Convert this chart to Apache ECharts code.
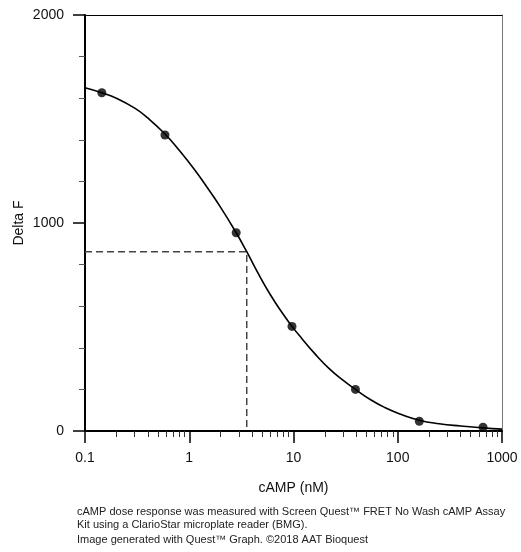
<!DOCTYPE html>
<html>
<head>
<meta charset="utf-8">
<script src="https://cdn.jsdelivr.net/npm/echarts@6/dist/echarts.min.js"></script>
<style>
html,body{margin:0;padding:0;background:#fff;}
#chart{width:521px;height:552px;}
</style>
</head>
<body>
<div id="chart"></div>
<script>
// Measured points (cAMP nM, Delta F)
var pointX = [0.145, 0.585, 2.82, 9.67, 39.3, 161, 658];
var pointY = [1626, 1423, 953, 503, 200, 47, 18];
// Fitted curve
var curveX = [0.1, 0.145, 0.2, 0.3, 0.4, 0.585, 0.8, 1.13, 1.5, 2, 2.82, 3.56, 4.5, 6, 8, 9.67, 12, 16, 22, 30, 39.3, 55, 75, 105, 161, 250, 400, 658, 1000];
var curveY = [1650, 1626, 1600, 1552, 1505, 1428, 1350, 1255, 1168, 1075, 953, 862, 765, 655, 560, 503, 445, 372, 300, 243, 200, 150, 113, 82, 52, 35, 24, 15, 9];
// EC50 guide (dashed)
var guideX = [0.1, 3.56, 3.56];
var guideY = [862, 862, 0];
// axis ticks
var xMajorTicks = [0.1, 1, 10, 100, 1000];
var xMinorTicks = [0.2,0.3,0.4,0.5,0.6,0.7,0.8,0.9,2,3,4,5,6,7,8,9,20,30,40,50,60,70,80,90,200,300,400,500,600,700,800,900];
var yTicks = [0, 1000, 2000];
var xTitle = 'cAMP (nM)';
var yTitle = 'Delta F';
var caption1 = 'cAMP dose response was measured with Screen Quest\u2122 FRET No Wash cAMP Assay';
var caption2 = 'Kit using a ClarioStar microplate reader (BMG).';
var caption3 = 'Image generated with Quest\u2122 Graph. \u00a92018 AAT Bioquest';

function zip(a, b){ return a.map(function(v,i){ return [v, b[i]]; }); }

var FONT = '"Liberation Sans", Arial, sans-serif';
var chart = echarts.init(document.getElementById('chart'), null, {renderer:'canvas'});
var option = {
  backgroundColor: '#fff',
  animation: false,
  textStyle: {fontFamily: FONT},
  grid: {left: 85, right: 19, top: 15, bottom: 121, containLabel: false, outerBoundsMode: 'none'},
  xAxis: [
    {
      type: 'log', logBase: 10, min: 0.1, max: 1000, position: 'bottom',
      axisLine: {show: true, onZero: false, lineStyle: {color: '#000', width: 2}},
      axisTick: {show: true, inside: false, length: 12, lineStyle: {color: '#000', width: 1.5}, customValues: xMajorTicks},
      minorTick: {show: false},
      axisLabel: {show: true, fontSize: 14, color: '#111', margin: 20, fontFamily: FONT, customValues: xMajorTicks,
        formatter: function(v){ return String(v); }},
      splitLine: {show: false},
      name: xTitle, nameLocation: 'middle', nameGap: 50, nameMoveOverlap: false,
      nameTextStyle: {fontSize: 14, color: '#111', fontFamily: FONT}
    },
    {
      type: 'log', logBase: 10, min: 0.1, max: 1000, position: 'bottom',
      axisLine: {show: false, onZero: false},
      axisTick: {show: true, inside: false, length: 6, lineStyle: {color: '#333', width: 1}, customValues: xMinorTicks},
      axisLabel: {show: false},
      splitLine: {show: false}
    },
    {
      type: 'log', logBase: 10, min: 0.1, max: 1000, position: 'top',
      axisLine: {show: true, onZero: false, lineStyle: {color: '#000', width: 1}},
      axisTick: {show: false}, axisLabel: {show: false}, splitLine: {show: false}
    }
  ],
  yAxis: [
    {
      type: 'value', min: 0, max: 2000, interval: 1000, position: 'left',
      axisLine: {show: true, onZero: false, lineStyle: {color: '#000', width: 2}},
      axisTick: {show: true, inside: false, length: 12, lineStyle: {color: '#000', width: 1.5}},
      minorTick: {show: true, splitNumber: 5, length: 6, lineStyle: {color: '#555', width: 1}},
      axisLabel: {show: true, fontSize: 14, color: '#111', margin: 21, fontFamily: FONT,
        formatter: function(v){ return String(v); }},
      splitLine: {show: false},
      name: yTitle, nameLocation: 'middle', nameGap: 59, nameRotate: 90, nameMoveOverlap: false,
      nameTextStyle: {fontSize: 14, color: '#111', fontFamily: FONT}
    },
    {
      type: 'value', min: 0, max: 2000, interval: 1000, position: 'right',
      axisLine: {show: true, onZero: false, lineStyle: {color: '#777', width: 1}},
      axisTick: {show: false}, axisLabel: {show: false}, splitLine: {show: false}
    }
  ],
  series: [
    {
      type: 'line', xAxisIndex: 0, yAxisIndex: 0,
      data: zip(guideX, guideY), symbol: 'none', smooth: false,
      lineStyle: {color: '#444', width: 1.5, type: [7, 4]}, z: 2
    },
    {
      type: 'line', xAxisIndex: 0, yAxisIndex: 0,
      data: zip(curveX, curveY), symbol: 'none', smooth: 0.5,
      lineStyle: {color: '#000', width: 1.6}, z: 3
    },
    {
      type: 'scatter', xAxisIndex: 0, yAxisIndex: 0,
      data: zip(pointX, pointY), symbol: 'circle', symbolSize: 9,
      itemStyle: {color: '#000'}, z: 4
    }
  ],
  graphic: [
    {type: 'text', left: 77, top: 505, style: {text: caption1 + '\n' + caption2, font: '11px ' + FONT, fill: '#222', lineHeight: 13}},
    {type: 'text', left: 77, top: 534, style: {text: caption3, font: '11px ' + FONT, fill: '#222'}}
  ]
};
chart.setOption(option);
</script>
</body>
</html>
